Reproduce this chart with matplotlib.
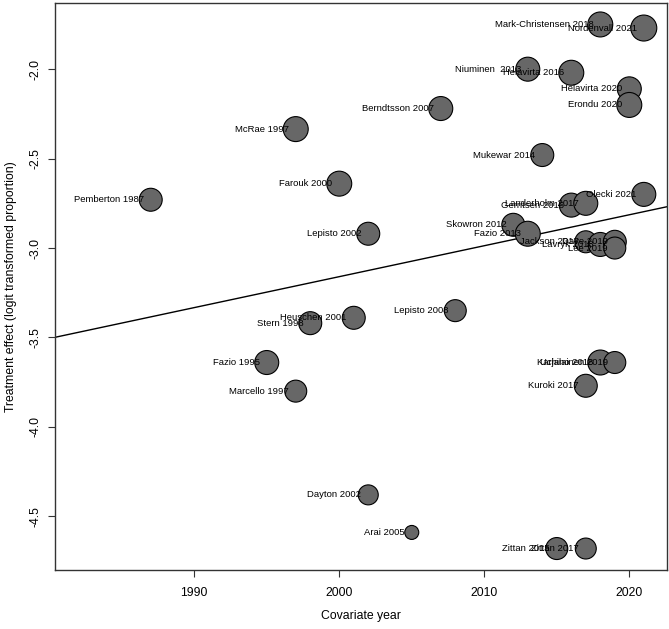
import numpy as np
import matplotlib.pyplot as plt

plt.rcParams['font.family'] = ['Liberation Sans', 'DejaVu Sans']

# study data
studies = ['Pemberton 1987', 'Fazio 1995', 'McRae 1997', 'Marcello 1997', 'Stern 1998',
           'Farouk 2000', 'Heuschen 2001', 'Lepisto 2002', 'Dayton 2002', 'Arai 2005',
           'Berndtsson 2007', 'Lepisto 2008', 'Skowron 2012', 'Niuminen  2013', 'Fazio 2013',
           'Mukewar 2014', 'Zittan 2015', 'Helavirta 2016', 'Gerritsen 2016', 'Landerholm 2017',
           'Jackson 2017', 'Kuroki 2017', 'Zittan 2017', 'Mark-Christensen 2018', 'Lavryk 2018',
           'Uchino 2018', 'Dave 2019', 'Lee 2019', 'Karjalainen 2019', 'Helavirta 2020',
           'Erondu 2020', 'Nordenvall 2021', 'Olecki 2021']
year = [1987, 1995, 1997, 1997, 1998,
        2000, 2001, 2002, 2002, 2005,
        2007, 2008, 2012, 2013, 2013,
        2014, 2015, 2016, 2016, 2017,
        2017, 2017, 2017, 2018, 2018,
        2018, 2019, 2019, 2019, 2020,
        2020, 2021, 2021]
effect = [-2.73, -3.64, -2.335, -3.80, -3.42,
          -2.64, -3.39, -2.92, -4.38, -4.59,
          -2.22, -3.35, -2.87, -2.00, -2.92,
          -2.48, -4.68, -2.02, -2.76, -2.75,
          -2.965, -3.77, -4.68, -1.75, -2.98,
          -3.64, -2.965, -3.00, -3.64, -2.11,
          -2.20, -1.77, -2.70]
weight = [13.2, 14.4, 15.6, 12.1, 13.2,
          15.6, 13.2, 13.2, 10.0, 4.9,
          14.4, 12.1, 13.2, 14.4, 15.6,
          13.2, 12.1, 15.6, 14.4, 14.4,
          12.1, 13.2, 11.0, 15.6, 14.4,
          15.6, 13.2, 12.1, 12.1, 14.4,
          15.6, 16.9, 14.4]

# meta-regression fit: effect = b0 + b1 * (year - 2000)
b0 = -3.16
b1 = 0.0173

xlim = (1980.4, 2022.6)
ylim = (-4.80, -1.63)

fig = plt.figure(figsize=(6.69, 6.29), dpi=100)
ax = fig.add_axes([55 / 669, 1 - 570 / 629, 612 / 669, 567 / 629])

xs = np.array(xlim)
ax.plot(xs, b0 + b1 * (xs - 2000), color='black', lw=1.0, zorder=1)

ax.scatter(year, effect, s=np.array(weight) * 20.7, color='#676767',
           edgecolor='black', linewidth=0.8, zorder=2)

for lab, xv, yv in zip(studies, year, effect):
    ax.annotate(lab, (xv, yv), xytext=(-5, 0), textcoords='offset points',
                ha='right', va='center', fontsize=6.8, zorder=3)

ax.set_xlim(xlim)
ax.set_ylim(ylim)
ax.set_xticks([1990, 2000, 2010, 2020])
ax.set_yticks([-2.0, -2.5, -3.0, -3.5, -4.0, -4.5])
ax.set_yticklabels(['-2.0', '-2.5', '-3.0', '-3.5', '-4.0', '-4.5'],
                   rotation=90, va='center')
ax.tick_params(axis='both', length=5, width=0.8, labelsize=8.8, color='#333333')
ax.tick_params(axis='x', pad=7)
ax.tick_params(axis='y', pad=5)
for sp in ax.spines.values():
    sp.set_linewidth(1.0)
    sp.set_color('#333333')

ax.set_xlabel('Covariate year', fontsize=8.8)
ax.xaxis.set_label_coords(0.5, -0.07)
ax.set_ylabel('Treatment effect (logit transformed proportion)', fontsize=8.8)
ax.yaxis.set_label_coords(-0.062, 0.5)

plt.savefig('out.png', dpi=100)
